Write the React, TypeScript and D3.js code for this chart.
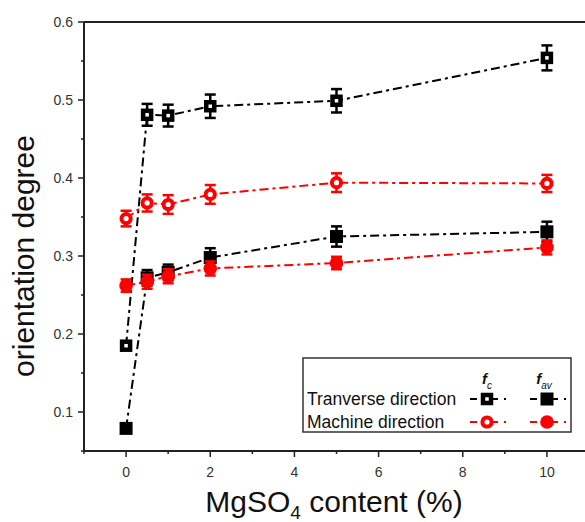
import React from "react";
import * as d3 from "d3";

const xs = [0, 0.5, 1, 2, 5, 10];
const tdFc = [0.185, 0.481, 0.480, 0.492, 0.499, 0.554];
const tdFcErr = [0, 0.014, 0.014, 0.015, 0.015, 0.016];
const tdFav = [0.079, 0.272, 0.279, 0.298, 0.325, 0.331];
const tdFavErr = [0, 0.01, 0.01, 0.012, 0.013, 0.013];
const mdFc = [0.348, 0.368, 0.366, 0.379, 0.394, 0.393];
const mdFcErr = [0.01, 0.011, 0.012, 0.012, 0.012, 0.011];
const mdFav = [0.262, 0.267, 0.274, 0.284, 0.291, 0.311];
const mdFavErr = [0.008, 0.009, 0.009, 0.009, 0.008, 0.009];

const xMajor = [0, 2, 4, 6, 8, 10];
const xMinor = [-1, 1, 3, 5, 7, 9];
const yMajor = [0.1, 0.2, 0.3, 0.4, 0.5, 0.6];
const yMinor = [0.05, 0.15, 0.25, 0.35, 0.45, 0.55];

const W = 585;
const H = 522;
const x = d3.scaleLinear().domain([-1, 11]).range([84, 589]);
const y = d3.scaleLinear().domain([0.05, 0.6]).range([451, 22]);
const DASH = "9,4,3,4";
const FONT = "Liberation Sans, Arial, sans-serif";

type Series = { vals: number[]; err: number[]; color: string; shape: "sq" | "ci"; open: boolean };

const series: Series[] = [
  { vals: tdFc, err: tdFcErr, color: "#000", shape: "sq", open: true },
  { vals: tdFav, err: tdFavErr, color: "#000", shape: "sq", open: false },
  { vals: mdFc, err: mdFcErr, color: "#f00", shape: "ci", open: true },
  { vals: mdFav, err: mdFavErr, color: "#f00", shape: "ci", open: false },
];

function Marker({ cx, cy, color, shape, open }: { cx: number; cy: number; color: string; shape: string; open: boolean }) {
  if (shape === "sq") {
    return open ? (
      <rect x={cx - 4} y={cy - 4} width={8} height={8} fill="#fff" stroke={color} strokeWidth={4.5} />
    ) : (
      <rect x={cx - 6.5} y={cy - 6.5} width={13} height={13} fill={color} />
    );
  }
  return open ? (
    <circle cx={cx} cy={cy} r={4.6} fill="#fff" stroke={color} strokeWidth={4} />
  ) : (
    <circle cx={cx} cy={cy} r={6.8} fill={color} />
  );
}

export default function App() {
  const line = d3
    .line<number>()
    .x((_, i) => x(xs[i]))
    .y((d) => y(d));

  const legendRows = [
    { label: "Tranverse direction", yb: 405, color: "#000", shape: "sq" },
    { label: "Machine direction", yb: 428, color: "#f00", shape: "ci" },
  ];

  return (
    <svg
      width={W}
      height={H}
      style={{ position: "absolute", left: 0, top: 0, background: "#fff" }}
      fontFamily={FONT}
    >
      <rect x={0} y={0} width={W} height={H} fill="#fff" />
      {/* frame */}
      <line x1={x(-1)} x2={x(11)} y1={y(0.6)} y2={y(0.6)} stroke="#222" strokeWidth={2} />
      <line x1={x(-1)} x2={x(11)} y1={y(0.05)} y2={y(0.05)} stroke="#222" strokeWidth={2} />
      <line x1={x(-1)} x2={x(-1)} y1={y(0.6)} y2={y(0.05)} stroke="#222" strokeWidth={2} />

      {/* y ticks */}
      {yMajor.map((v) => (
        <g key={"ym" + v}>
          <line x1={x(-1) - 6} x2={x(-1)} y1={y(v)} y2={y(v)} stroke="#222" strokeWidth={1.5} />
          <text x={x(-1) - 11} y={y(v)} dy="0.35em" textAnchor="end" fontSize={14} fill="#333">
            {d3.format(".1f")(v)}
          </text>
        </g>
      ))}
      {yMinor.map((v) => (
        <line key={"yn" + v} x1={x(-1) - 3} x2={x(-1)} y1={y(v)} y2={y(v)} stroke="#222" strokeWidth={1.5} />
      ))}
      {/* x ticks */}
      {xMajor.map((v) => (
        <g key={"xm" + v}>
          <line x1={x(v)} x2={x(v)} y1={y(0.05)} y2={y(0.05) + 6} stroke="#222" strokeWidth={1.5} />
          <text x={x(v)} y={477} textAnchor="middle" fontSize={14} fill="#333">
            {v}
          </text>
        </g>
      ))}
      {xMinor.map((v) => (
        <line key={"xn" + v} x1={x(v)} x2={x(v)} y1={y(0.05)} y2={y(0.05) + 3} stroke="#222" strokeWidth={1.5} />
      ))}

      {/* axis titles */}
      <text
        transform={`translate(34, 256) rotate(-90)`}
        textAnchor="middle"
        fontSize={30}
        fill="#111"
      >
        orientation degree
      </text>
      <text x={334} y={512} textAnchor="middle" fontSize={30} fill="#111">
        MgSO<tspan fontSize={19} dy={7}>4</tspan>
        <tspan dy={-7}> content (%)</tspan>
      </text>

      {/* lines */}
      {series.map((s, k) => (
        <path key={"l" + k} d={line(s.vals) || ""} fill="none" stroke={s.color} strokeWidth={2} strokeDasharray={DASH} />
      ))}
      {/* error bars + markers */}
      {series.map((s, k) => (
        <g key={"m" + k}>
          {s.vals.map((v, i) =>
            s.err[i] > 0 ? (
              <g key={i} stroke={s.color} strokeWidth={2.5}>
                <line x1={x(xs[i])} x2={x(xs[i])} y1={y(v - s.err[i])} y2={y(v + s.err[i])} />
                <line x1={x(xs[i]) - 5.5} x2={x(xs[i]) + 5.5} y1={y(v + s.err[i])} y2={y(v + s.err[i])} />
                <line x1={x(xs[i]) - 5.5} x2={x(xs[i]) + 5.5} y1={y(v - s.err[i])} y2={y(v - s.err[i])} />
              </g>
            ) : null
          )}
          {s.vals.map((v, i) => (
            <Marker key={"p" + i} cx={x(xs[i])} cy={y(v)} color={s.color} shape={s.shape} open={s.open} />
          ))}
        </g>
      ))}

      {/* legend */}
      <rect x={303} y={358} width={268} height={74} fill="#fff" stroke="#333" strokeWidth={1.5} />
      <text x={487} y={384} textAnchor="middle" fontSize={15} fontWeight="bold" fontStyle="italic" fill="#111">
        f<tspan fontSize={10} dy={5} fontWeight="normal">c</tspan>
      </text>
      <text x={544} y={384} textAnchor="middle" fontSize={15} fontWeight="bold" fontStyle="italic" fill="#111">
        f<tspan fontSize={10} dy={5} fontWeight="normal">av</tspan>
      </text>
      {legendRows.map((r, k) => (
        <g key={"lg" + k}>
          <text x={307} y={r.yb} fontSize={17.5} fill="#111">
            {r.label}
          </text>
          {[487, 547].map((mx, j) => (
            <g key={j}>
              <line x1={mx - 17} x2={mx + 20} y1={r.yb - 6} y2={r.yb - 6} stroke={r.color} strokeWidth={2} strokeDasharray="7,6,2,6" />
              <Marker cx={mx} cy={r.yb - 6} color={r.color} shape={r.shape} open={j === 0} />
            </g>
          ))}
        </g>
      ))}
    </svg>
  );
}
